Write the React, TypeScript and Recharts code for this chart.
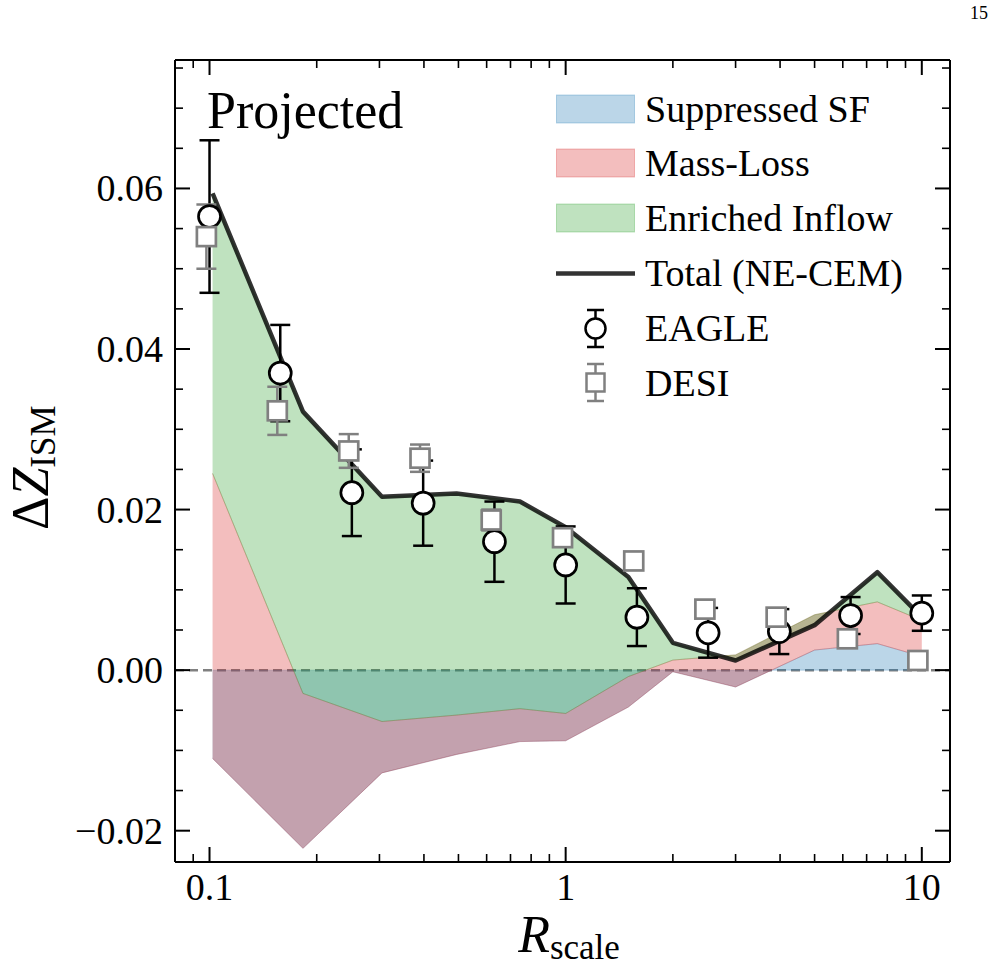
import React from 'react';
import { ComposedChart, XAxis, YAxis, Area, Line, Scatter, ErrorBar, ReferenceLine, Legend } from 'recharts';

// NE-CEM model decomposition, per radial bin
const modelR = [0.102, 0.183, 0.305, 0.494, 0.744, 1.0, 1.5, 2.0, 3.0, 5.0, 7.5, 10];
const suppressedSF = [-0.011, -0.0222, -0.0128, -0.0105, -0.0089, -0.0088, -0.0046, -0.0002, -0.0021, 0.0025, 0.0033, 0.0017];
const massLoss = [0.0355, 0.0193, 0.0064, 0.0049, 0.0041, 0.0034, 0.0038, 0.00145, 0.004, 0.0044, 0.0052, 0.0045];
const enrichedInflow = [0.0349, 0.0351, 0.028, 0.0276, 0.0258, 0.0232, 0.0124, 0.00215, -0.0007, -0.0013, 0.0037, 0.0004];

// EAGLE measurements
const eagleR = [0.1, 0.158, 0.251, 0.398, 0.631, 1.0, 1.585, 2.512, 3.981, 6.31, 10];
const eagleDZ = [0.0565, 0.037, 0.0221, 0.0208, 0.016, 0.0131, 0.0066, 0.00465, 0.0048, 0.0068, 0.0071];
const eagleErr = [0.0095, 0.006, 0.0054, 0.0053, 0.005, 0.0048, 0.0036, 0.0031, 0.0028, 0.0023, 0.0022];

// DESI measurements
const desiR = [0.098, 0.155, 0.246, 0.39, 0.618, 0.98, 1.553, 2.46, 3.9, 6.18, 9.75];
const desiDZ = [0.054, 0.0323, 0.0273, 0.0264, 0.0187, 0.0165, 0.0136, 0.0076, 0.0066, 0.0039, 0.0012];
const desiErr = [0.004, 0.003, 0.0021, 0.0017, 0.0013, 0.0011, 0.001, 0.0009, 0.0009, 0.0008, 0.0008];

// axis ticks
const xMajor = [0.1, 1, 10];
const xMajorLabels = ['0.1', '1', '10'];
const xMinor = [0.09, 0.2, 0.3, 0.4, 0.5, 0.6, 0.7, 0.8, 0.9, 2, 3, 4, 5, 6, 7, 8, 9];
const yMajor = [-0.02, 0, 0.02, 0.04, 0.06];
const yMajorLabels = ['\u22120.02', '0.00', '0.02', '0.04', '0.06'];
const yMinor = [-0.015, -0.01, -0.005, 0.005, 0.01, 0.015, 0.025, 0.03, 0.035, 0.045, 0.05, 0.055, 0.065, 0.07, 0.075];

const X_DOMAIN = [0.08, 12];
const Y_DOMAIN = [-0.0239, 0.076];
const FONT = '"Liberation Serif", "Times New Roman", "DejaVu Serif", serif';

const C_SF = '#1f77b4';
const C_ML = '#d62728';
const C_EI = '#2ca02c';

// stacked bands built from the components
const modelData = modelR.map((r, i) => {
  const s = suppressedSF[i];
  const sm = s + massLoss[i];
  const tot = sm + enrichedInflow[i];
  return { r, sf: [0, s], ml: [s, sm], ei: [sm, tot], total: tot };
});
const eagleData = eagleR.map((r, i) => ({ r, dz: eagleDZ[i], err: eagleErr[i] }));
const desiData = desiR.map((r, i) => ({ r, dz: desiDZ[i], err: desiErr[i] }));

const xTicks = [...xMajor, ...xMinor].sort((a, b) => a - b);
const yTicks = [...yMajor, ...yMinor].sort((a, b) => a - b);

// inward ticks (matplotlib style), labels only on left/bottom
const makeTick = (side: string, majors: number[], labels: string[] | null) => (props: any) => {
  const { x, y, payload } = props;
  const v = payload.value;
  const idx = majors.findIndex((m) => Math.abs(m - v) < 1e-9);
  const len = idx >= 0 ? 15 : 8;
  let x2 = x;
  let y2 = y;
  if (side === 'left') x2 = x + len;
  if (side === 'right') x2 = x - len;
  if (side === 'bottom') y2 = y - len;
  if (side === 'top') y2 = y + len;
  const showLabel = labels && idx >= 0;
  return (
    <g>
      <line x1={x} y1={y} x2={x2} y2={y2} stroke="#000" strokeWidth={idx >= 0 ? 2 : 1.6} />
      {showLabel && side === 'left' && (
        <text x={x - 12} y={y + 13} textAnchor="end" fontFamily={FONT} fontSize={38} fill="#000">
          {labels![idx]}
        </text>
      )}
      {showLabel && side === 'bottom' && (
        <text x={x} y={y + 38} textAnchor="middle" fontFamily={FONT} fontSize={38} fill="#000">
          {labels![idx]}
        </text>
      )}
    </g>
  );
};

const YLabel = () => (
  <text transform="translate(48,530) rotate(-90)" fontFamily={FONT} fontSize={52} fill="#000">
    <tspan>Δ</tspan>
    <tspan fontStyle="italic">Z</tspan>
    <tspan fontSize={35} dy={7}>ISM</tspan>
  </text>
);

const XLabel = () => (
  <text x={569} y={952} textAnchor="middle" fontFamily={FONT} fill="#000">
    <tspan fontSize={52} fontStyle="italic">R</tspan>
    <tspan fontSize={35} dy={7}>scale</tspan>
  </text>
);

const PanelLabel = () => (
  <text x={207} y={128} fontFamily={FONT} fontSize={52} fill="#000">
    Projected
  </text>
);

const legendRows = [
  { label: 'Suppressed SF', kind: 'patch', color: C_SF },
  { label: 'Mass-Loss', kind: 'patch', color: C_ML },
  { label: 'Enriched Inflow', kind: 'patch', color: C_EI },
  { label: 'Total (NE-CEM)', kind: 'line', color: '#000' },
  { label: 'EAGLE', kind: 'circle', color: '#000' },
  { label: 'DESI', kind: 'square', color: '#808080' },
];

const LegendIcon = ({ kind, color }: { kind: string; color: string }) => (
  <svg width={79} height={55} style={{ display: 'block' }}>
    {kind === 'patch' && (
      <rect x={0.5} y={13} width={78} height={28} fill={color} fillOpacity={0.3} stroke={color} strokeOpacity={0.3} />
    )}
    {kind === 'line' && <line x1={0} y1={27.5} x2={79} y2={27.5} stroke={color} strokeOpacity={0.8} strokeWidth={4.5} />}
    {kind === 'circle' && (
      <g stroke={color} strokeWidth={2.5}>
        <line x1={39.5} y1={9} x2={39.5} y2={46} />
        <line x1={31} y1={9} x2={48} y2={9} />
        <line x1={31} y1={46} x2={48} y2={46} />
        <circle cx={39.5} cy={27.5} r={10} fill="#fff" />
      </g>
    )}
    {kind === 'square' && (
      <g stroke={color} strokeWidth={2.5}>
        <line x1={39.5} y1={9} x2={39.5} y2={46} />
        <line x1={31} y1={9} x2={48} y2={9} />
        <line x1={31} y1={46} x2={48} y2={46} />
        <rect x={30.5} y={18.5} width={18} height={18} fill="#fff" />
      </g>
    )}
  </svg>
);

const LegendBox = () => (
  <div style={{ fontFamily: FONT, fontSize: 38, color: '#000' }}>
    {legendRows.map((row) => (
      <div key={row.label} style={{ display: 'flex', alignItems: 'center', height: 54.8 }}>
        <LegendIcon kind={row.kind} color={row.color} />
        <span style={{ marginLeft: 10, lineHeight: '54.8px', whiteSpace: 'nowrap' }}>{row.label}</span>
      </div>
    ))}
  </div>
);

const CircleShape = (props: any) => (
  <circle cx={props.cx} cy={props.cy} r={11} fill="#fff" stroke="#000" strokeWidth={2.7} />
);
const SquareShape = (props: any) => (
  <rect x={props.cx - 9.5} y={props.cy - 9.5} width={19} height={19} fill="#fff" stroke="#808080" strokeWidth={2.7} />
);

export default function App() {
  return (
    <div style={{ position: 'absolute', left: 0, top: 0, width: 995, height: 970, background: '#fff' }}>
      <div style={{ position: 'absolute', left: 970, top: 3, fontFamily: FONT, fontSize: 18 }}>15</div>
      <ComposedChart
        width={995}
        height={970}
        data={modelData}
        margin={{ top: 50, right: 35, bottom: 48, left: 75 }}
      >
        <XAxis
          xAxisId="bottom"
          dataKey="r"
          type="number"
          scale="log"
          domain={X_DOMAIN}
          allowDataOverflow
          ticks={xTicks}
          interval={0}
          height={60}
          tickSize={0}
          tickMargin={0}
          axisLine={{ stroke: '#000', strokeWidth: 2 }}
          tickLine={false}
          tick={makeTick('bottom', xMajor, xMajorLabels)}
          label={<XLabel />}
        />
        <XAxis
          xAxisId="top"
          orientation="top"
          dataKey="r"
          type="number"
          scale="log"
          domain={X_DOMAIN}
          allowDataOverflow
          ticks={xTicks}
          interval={0}
          height={10}
          tickSize={0}
          tickMargin={0}
          axisLine={{ stroke: '#000', strokeWidth: 2 }}
          tickLine={false}
          tick={makeTick('top', xMajor, null)}
          label={<PanelLabel />}
        />
        <YAxis
          yAxisId="left"
          type="number"
          domain={Y_DOMAIN}
          allowDataOverflow
          ticks={yTicks}
          interval={0}
          width={100}
          tickSize={0}
          tickMargin={0}
          axisLine={{ stroke: '#000', strokeWidth: 2 }}
          tickLine={false}
          tick={makeTick('left', yMajor, yMajorLabels)}
          label={<YLabel />}
        />
        <YAxis
          yAxisId="right"
          orientation="right"
          type="number"
          domain={Y_DOMAIN}
          allowDataOverflow
          ticks={yTicks}
          interval={0}
          width={10}
          tickSize={0}
          tickMargin={0}
          axisLine={{ stroke: '#000', strokeWidth: 2 }}
          tickLine={false}
          tick={makeTick('right', yMajor, null)}
        />
        <ReferenceLine xAxisId="bottom" yAxisId="left" y={0} stroke="#808080" strokeWidth={2.5} strokeDasharray="9 5" {...({ zIndex: 50 } as any)} />
        <Area xAxisId="bottom" yAxisId="left" type="linear" dataKey="sf" name="Suppressed SF" fill={C_SF} fillOpacity={0.3} stroke={C_SF} strokeOpacity={0.25} strokeWidth={1} dot={false} activeDot={false} isAnimationActive={false} />
        <Area xAxisId="bottom" yAxisId="left" type="linear" dataKey="ml" name="Mass-Loss" fill={C_ML} fillOpacity={0.3} stroke={C_ML} strokeOpacity={0.25} strokeWidth={1} dot={false} activeDot={false} isAnimationActive={false} />
        <Area xAxisId="bottom" yAxisId="left" type="linear" dataKey="ei" name="Enriched Inflow" fill={C_EI} fillOpacity={0.3} stroke={C_EI} strokeOpacity={0.25} strokeWidth={1} dot={false} activeDot={false} isAnimationActive={false} />
        <Line xAxisId="bottom" yAxisId="left" type="linear" dataKey="total" name="Total (NE-CEM)" stroke="#000" strokeOpacity={0.8} strokeWidth={4.5} strokeLinejoin="round" dot={false} activeDot={false} isAnimationActive={false} />
        <Scatter xAxisId="bottom" yAxisId="left" name="EAGLE" data={eagleData} dataKey="dz" shape={CircleShape} isAnimationActive={false}>
          <ErrorBar dataKey="err" direction="y" width={10} stroke="#000" strokeWidth={2.5} />
        </Scatter>
        <Scatter xAxisId="bottom" yAxisId="left" name="DESI" data={desiData} dataKey="dz" shape={SquareShape} isAnimationActive={false}>
          <ErrorBar dataKey="err" direction="y" width={10} stroke="#808080" strokeWidth={2.5} />
        </Scatter>
        <Legend
          layout="vertical"
          align="center"
          verticalAlign="middle"
          content={() => <LegendBox />}
          wrapperStyle={{ left: 556, top: 81.6, width: 390, height: 330 }}
        />
      </ComposedChart>
    </div>
  );
}
